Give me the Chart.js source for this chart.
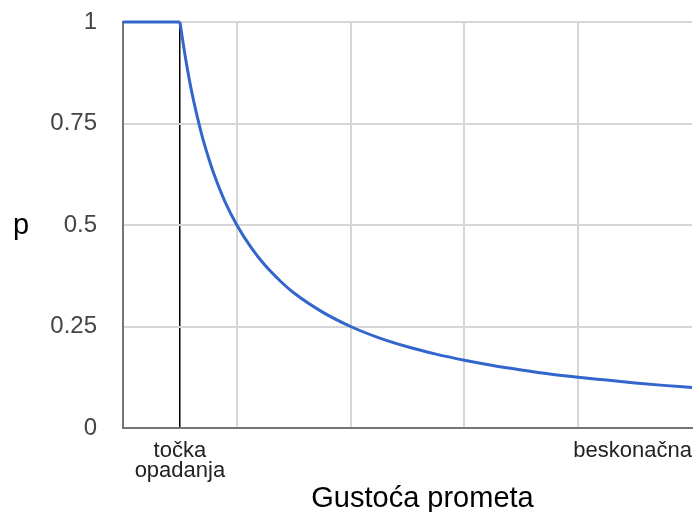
<!DOCTYPE html>
<html>
<head>
<meta charset="utf-8">
<script src="https://cdn.jsdelivr.net/npm/chart.js@4.4.0/dist/chart.umd.min.js"></script>
<style>
  body { margin: 0; background: #fff; }
</style>
</head>
<body>
<canvas id="chart" width="694" height="512"></canvas>
<script>
// podaci ocitani sa slike
var flatX = [0, 1];
var flatP = [1, 1];
var curveX = [1, 1.1, 1.2, 1.3, 1.4, 1.5, 1.6, 1.8, 2, 2.25, 2.5, 2.75, 3, 3.5, 4, 4.5, 5, 5.5, 6, 6.5, 7, 7.5, 8, 8.5, 9, 9.5, 10];
var curveP = [1, 0.91, 0.833, 0.77, 0.714, 0.667, 0.625, 0.555, 0.5, 0.445, 0.4, 0.364, 0.333, 0.286, 0.25, 0.222, 0.2, 0.182, 0.167, 0.154, 0.143, 0.133, 0.125, 0.118, 0.111, 0.105, 0.1];

var yTicks = [0, 0.25, 0.5, 0.75, 1];
var yTickLabels = ['0', '0.25', '0.5', '0.75', '1'];
var xGridValues = [0, 1, 2, 4, 6, 8, 10];
var xTickValues = [1, 10];
var xTickLabels = [['točka', 'opadanja'], 'beskonačna'];
var xTitle = 'Gustoća prometa';
var yTitle = 'p';

var fontFamily = "Arial, 'Liberation Sans', sans-serif";

function toPoints(xs, ys) {
    return xs.map(function (x, i) { return { x: x, y: ys[i] }; });
}

// naslovi osi: "p" neokrenut lijevo, naslov x osi malo udesno od sredine
var axisTitlePlugin = {
    id: 'axisTitles',
    afterDraw: function (chart) {
        var c = chart.ctx;
        var y = chart.scales.y;
        var x = chart.scales.x;
        c.save();
        c.font = '29px ' + fontFamily;
        c.fillStyle = '#000';
        c.textAlign = 'center';
        c.textBaseline = 'alphabetic';
        c.fillText(yTitle, 21, (y.top + y.bottom) / 2 + 9);
        c.fillText(xTitle, (x.left + x.right) / 2 + 15, x.bottom - 5);
        c.restore();
    }
};

var ctx = document.getElementById('chart').getContext('2d');

new Chart(ctx, {
    type: 'line',
    data: {
        datasets: [{
            data: toPoints(flatX, flatP),
            borderColor: '#3366cc',
            borderWidth: 3,
            pointRadius: 0,
            clip: false
        },
        {
            data: toPoints(curveX, curveP),
            borderColor: '#3366cc',
            borderWidth: 3,
            pointRadius: 0,
            cubicInterpolationMode: 'monotone',
            clip: false
        }]
    },
    options: {
        responsive: false,
        animation: false,
        layout: {
            padding: { top: 22, right: 2, bottom: 0, left: 0 }
        },
        plugins: {
            legend: { display: false },
            tooltip: { enabled: false }
        },
        scales: {
            x: {
                type: 'linear',
                min: 0,
                max: 10,
                afterBuildTicks: function (scale) {
                    scale.ticks = xGridValues.map(function (v) { return { value: v }; });
                },
                afterFit: function (scale) {
                    scale.height = 84;
                    scale.paddingLeft = 0;
                    scale.paddingRight = 0;
                },
                grid: {
                    drawTicks: false,
                    color: function (c) {
                        var v = c.tick.value;
                        if (v === 1) return '#000';
                        if (v === 0 || v === 10) return 'rgba(0,0,0,0)';
                        return '#d6d6d6';
                    },
                    lineWidth: function (c) {
                        return c.tick.value === 1 ? 1.5 : 2;
                    }
                },
                border: { color: '#757575', width: 2 },
                ticks: {
                    align: 'inner',
                    maxRotation: 0,
                    autoSkip: false,
                    padding: 13,
                    color: '#222',
                    font: { size: 22, family: fontFamily, lineHeight: 0.92 },
                    callback: function (value) {
                        var i = xTickValues.indexOf(value);
                        return i >= 0 ? xTickLabels[i] : '';
                    }
                }
            },
            y: {
                min: 0,
                max: 1,
                afterBuildTicks: function (scale) {
                    scale.ticks = yTicks.map(function (v) { return { value: v }; });
                },
                afterFit: function (scale) {
                    scale.width = 123;
                    scale.paddingTop = 0;
                    scale.paddingBottom = 0;
                },
                grid: {
                    drawTicks: false,
                    color: function (c) {
                        return c.tick.value === 0 ? 'rgba(0,0,0,0)' : '#d6d6d6';
                    },
                    lineWidth: 2
                },
                border: { color: '#757575', width: 2 },
                ticks: {
                    padding: 26,
                    color: '#444',
                    font: { size: 24, family: fontFamily },
                    callback: function (value) {
                        var i = yTicks.indexOf(value);
                        return i >= 0 ? yTickLabels[i] : '';
                    }
                }
            }
        }
    },
    plugins: [axisTitlePlugin]
});
</script>
</body>
</html>
